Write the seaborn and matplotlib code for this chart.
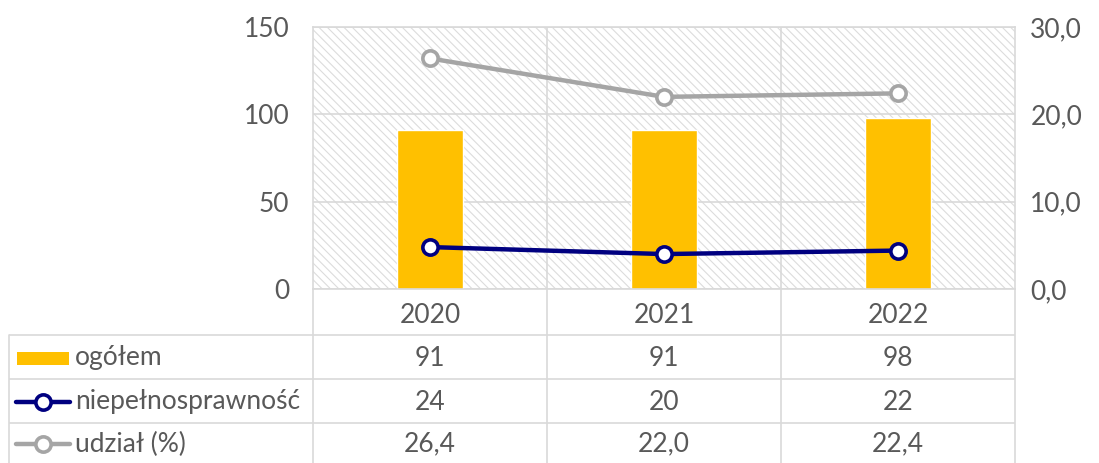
import matplotlib
matplotlib.use("Agg")
import matplotlib.pyplot as plt
from matplotlib.patches import Rectangle
from matplotlib.ticker import FuncFormatter
import seaborn as sns
import pandas as pd

# --- data ---------------------------------------------------------------
years = ["2020", "2021", "2022"]
ogolem = [91, 91, 98]
niepelnosprawnosc = [24, 20, 22]
udzial = [26.4, 22.0, 22.4]
series_names = ["ogółem", "niepełnosprawność", "udział (%)"]

# --- style --------------------------------------------------------------
sns.set_theme(style="white")
plt.rcParams["font.family"] = ["Lato", "DejaVu Sans"]
plt.rcParams["hatch.linewidth"] = 0.8

TXT = "#595959"
GRID = "#D9D9D9"
BAR = "#FFC000"
NAVY = "#000080"
GREY = "#A5A5A5"
FS = 19

W, H = 1099, 463
fig = plt.figure(figsize=(W / 100, H / 100), dpi=100)

# plot area in pixel coordinates
px_l, px_r, px_t, px_b = 313, 1015, 27, 289
ax = fig.add_axes([px_l / W, 1 - px_b / H, (px_r - px_l) / W, (px_b - px_t) / H])

# hatched background of the plot area
ax.add_patch(Rectangle((0, 0), 1, 1, transform=ax.transAxes, facecolor="white",
                       edgecolor="#DCDCDC", linewidth=0, hatch="\\\\\\\\", zorder=0))

df = pd.DataFrame({"rok": years, "ogolem": ogolem, "niep": niepelnosprawnosc, "udzial": udzial})

sns.barplot(data=df, x="rok", y="ogolem", color=BAR, saturation=1, width=0.286,
            ax=ax, zorder=2)
sns.pointplot(data=df, x="rok", y="niep", color=NAVY, ax=ax, markers="o",
              linewidth=3.2, markersize=11, markerfacecolor="white",
              markeredgecolor=NAVY, markeredgewidth=2.6, zorder=4)

# secondary axis for the share
ax2 = ax.twinx()
sns.pointplot(data=df, x="rok", y="udzial", color=GREY, ax=ax2, markers="o",
              linewidth=3.2, markersize=11, markerfacecolor="white",
              markeredgecolor=GREY, markeredgewidth=2.6, zorder=4)
ax2.set_ylim(0, 30)
ax2.set_yticks([0, 10, 20, 30])
ax2.yaxis.set_major_formatter(FuncFormatter(lambda v, p: f"{v:.1f}".replace(".", ",")))
ax2.set_ylabel("")
ax2.set_xlabel("")
ax2.grid(False)
for s in ax2.spines.values():
    s.set_visible(False)
ax2.tick_params(axis="y", length=0, pad=11, labelsize=FS, labelcolor=TXT)

ax.set_xlim(-0.5, 2.5)
ax.set_ylim(0, 150)
ax.set_yticks([0, 50, 100, 150])
ax.set_xticks([0, 1, 2], labels=years)
ax.set_xticks([0.5, 1.5], minor=True)
ax.set_xlabel("")
ax.set_ylabel("")
ax.grid(False)
ax.yaxis.grid(True, color=GRID, linewidth=1.2, zorder=1)
ax.xaxis.grid(True, which="minor", color=GRID, linewidth=1.2, zorder=1)
ax.set_axisbelow(True)
for s in ax.spines.values():
    s.set_color(GRID)
    s.set_linewidth(1.2)
ax.tick_params(axis="y", length=0, pad=17, labelsize=FS, labelcolor=TXT)
ax.tick_params(axis="x", which="both", length=0, pad=10, labelsize=FS, labelcolor=TXT)

# --- data table beneath the chart ---------------------------------------
ov = fig.add_axes([0, 0, 1, 1], zorder=-1)
ov.set_xlim(0, W)
ov.set_ylim(H, 0)
ov.axis("off")

tab_l = 9
row_edges = [335, 379, 423, 464]
col_edges = [px_l, 547, 781, px_r]
lw = 1.2
for y in row_edges:
    ov.plot([tab_l, px_r], [y, y], color=GRID, lw=lw, solid_capstyle="butt")
ov.plot([tab_l, tab_l], [row_edges[0], H], color=GRID, lw=lw)
for x in col_edges:
    ov.plot([x, x], [px_b, H], color=GRID, lw=lw)

rows = [
    [str(v) for v in ogolem],
    [str(v) for v in niepelnosprawnosc],
    [f"{v:.1f}".replace(".", ",") for v in udzial],
]
centers = [(col_edges[i] + col_edges[i + 1]) / 2 for i in range(3)]
for r, vals in enumerate(rows):
    yc = (row_edges[r] + min(row_edges[r + 1], H)) / 2 + 1
    for xc, t in zip(centers, vals):
        ov.text(xc, yc, t, ha="center", va="center", fontsize=FS, color=TXT)
    ov.text(75, yc, series_names[r], ha="left", va="center", fontsize=FS, color=TXT)

# legend keys in the first column
y1 = (row_edges[0] + row_edges[1]) / 2 + 1
ov.add_patch(Rectangle((17, y1 - 6.5), 52, 13, facecolor=BAR, edgecolor="none"))
for r, col in [(1, NAVY), (2, GREY)]:
    yc = (row_edges[r] + min(row_edges[r + 1], H)) / 2 + 1
    ov.plot([16, 70], [yc, yc], color=col, lw=3.2, solid_capstyle="round")
    ov.plot([43], [yc], marker="o", markersize=11, markerfacecolor="white",
            markeredgecolor=col, markeredgewidth=2.6, linestyle="none")

fig.savefig("out.png", dpi=100)
